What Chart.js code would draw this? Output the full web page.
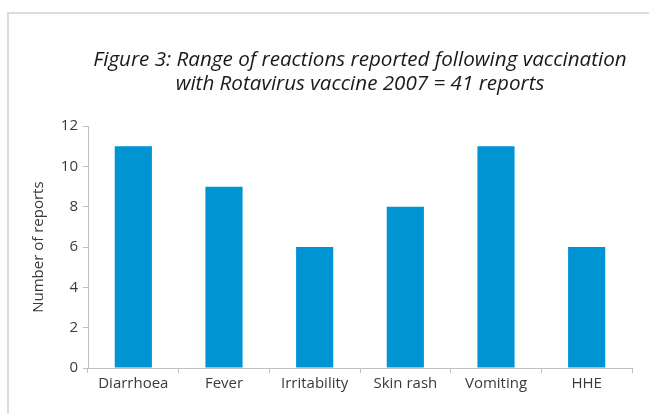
<!DOCTYPE html>
<html>
<head>
<meta charset="utf-8">
<script src="https://cdn.jsdelivr.net/npm/chart.js@4/dist/chart.umd.min.js"></script>
<style>
    body { margin: 0; background: #fff; }
    #frame {
        position: absolute; left: 7px; top: 12px; width: 700px; height: 500px;
        border-top: 2px solid #dcdcdc; border-left: 2px solid #dcdcdc;
    }
    #wrap { position: absolute; left: 0; top: 0; width: 649px; height: 414px; }
</style>
</head>
<body>
<div id="frame"></div>
<div id="wrap"><canvas id="reactionsChart" width="649" height="414"></canvas></div>
<script>
var reactions = ['Diarrhoea', 'Fever', 'Irritability', 'Skin rash', 'Vomiting', 'HHE'];
var reportCounts = [11, 9, 6, 8, 11, 6];
var yTicks = [0, 2, 4, 6, 8, 10, 12];

Chart.defaults.font.family = "'Open Sans', sans-serif";
Chart.defaults.color = '#404040';

var ctx = document.getElementById("reactionsChart");
var myChart = new Chart(ctx, {
    type: 'bar',
    data: {
        labels: reactions,
        datasets: [
            {
                label: 'Number of reports',
                data: reportCounts,
                backgroundColor: '#0094d3',
                barPercentage: 0.41,
                categoryPercentage: 1.0,
            },
        ]
    },
    options: {
        responsive: false,
        animation: false,
        layout: {
            padding: { left: 30, right: 17, top: 48, bottom: 10 },
        },
        plugins: {
            legend: { display: false },
            tooltip: { enabled: false },
            title: {
                display: true,
                fullSize: false,
                text: ['Figure 3: Range of reactions reported following vaccination', 'with Rotavirus vaccine 2007 = 41 reports'],
                color: '#1a1a1a',
                font: { size: 20.6, style: 'italic', weight: 'normal', lineHeight: 1.17 },
                padding: { top: 0, bottom: 30 },
            },
        },
        scales: {
            x: {
                grid: {
                    drawOnChartArea: false,
                    color: '#bfbfbf',
                    tickLength: 5,
                },
                border: { color: '#bfbfbf', width: 1 },
                ticks: {
                    font: { size: 15 },
                    color: '#3a3a3a',
                    maxRotation: 0,
                    padding: 2,
                },
                afterFit: function (scale) { scale.height = 36; },
            },
            y: {
                min: 0,
                max: 12,
                afterBuildTicks: function (scale) {
                    scale.ticks = yTicks.map(function (v) { return { value: v }; });
                },
                grid: {
                    drawOnChartArea: false,
                    color: '#bfbfbf',
                    tickLength: 5,
                },
                border: { color: '#bfbfbf', width: 1 },
                ticks: {
                    font: { size: 15 },
                    color: '#3a3a3a',
                    padding: 5,
                },
                title: {
                    display: true,
                    text: 'Number of reports',
                    font: { size: 15 },
                    color: '#3a3a3a',
                    padding: { top: 0, bottom: 0 },
                },
                afterFit: function (scale) { scale.width = 58; },
            },
        },
    },
});
</script>
</body>
</html>
